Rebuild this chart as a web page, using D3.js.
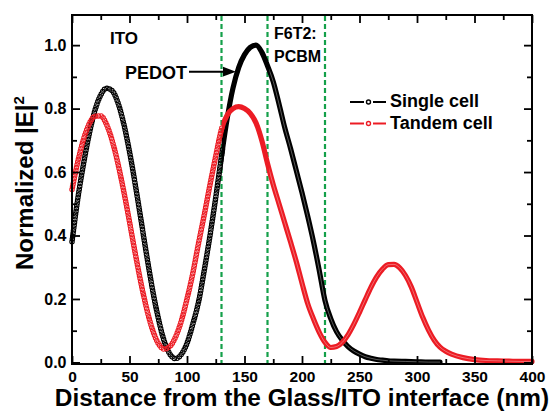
<!DOCTYPE html>
<html><head><meta charset="utf-8">
<script src="https://cdn.jsdelivr.net/npm/d3@7"></script>
<style>
body{margin:0;background:#fff}
svg{display:block}
text{font-family:"Liberation Sans",Arial,Helvetica,sans-serif;font-weight:bold;fill:#000}
</style>
</head><body>
<svg id="chart" width="554" height="412"></svg>
<script>
// ---- data ----
const singleX = [0,5,10,15,20,25,30,35,40,45,50,55,60,65,70,75,80,85,90,95,100,105,110,115,120,125,130,135,140,145,150,155,160,165,170,175,180,185,190,195,200,205,210,215,220,225,230,235,240,245,250,255,260,265,270,275,280,290,300,310,320];
const singleY = [0.38,0.515,0.625,0.72,0.795,0.843,0.864,0.856,0.818,0.752,0.664,0.561,0.449,0.336,0.23,0.14,0.069,0.027,0.012,0.025,0.06,0.12,0.19,0.29,0.40,0.52,0.65,0.77,0.865,0.93,0.97,0.993,1.0,0.978,0.935,0.885,0.815,0.74,0.675,0.605,0.535,0.46,0.38,0.29,0.195,0.138,0.097,0.07,0.05,0.036,0.026,0.018,0.013,0.009,0.007,0.005,0.004,0.003,0.002,0.001,0.001];
const tandemX = [0,5,10,15,20,25,30,35,40,45,50,55,60,65,70,75,80,85,90,95,100,105,110,115,120,125,130,135,140,145,150,155,160,165,170,175,180,185,190,195,200,205,210,215,220,225,230,235,240,245,250,255,260,265,270,275,280,285,290,295,300,305,310,315,320,325,330,340,350,360,370,380,390,400];
const tandemY = [0.545,0.632,0.703,0.752,0.776,0.777,0.75,0.698,0.626,0.539,0.443,0.344,0.25,0.168,0.103,0.06,0.042,0.05,0.08,0.13,0.20,0.28,0.375,0.465,0.56,0.65,0.735,0.78,0.80,0.806,0.80,0.785,0.755,0.70,0.627,0.56,0.50,0.44,0.38,0.318,0.25,0.185,0.137,0.095,0.063,0.047,0.05,0.063,0.087,0.12,0.158,0.198,0.237,0.27,0.294,0.308,0.309,0.298,0.274,0.238,0.19,0.142,0.102,0.07,0.048,0.035,0.026,0.015,0.009,0.006,0.005,0.004,0.003,0.003];
const seriesNames = ["Single cell","Tandem cell"];
const seriesColors = ["#000000","#ec1c24"];
const layerBounds = [130,170,220];
const xMajor = [0,50,100,150,200,250,300,350,400];
const xMinor = [25,75,125,175,225,275,325,375];
const yMajor = [0,0.2,0.4,0.6,0.8,1.0];
const yMinor = [0.1,0.3,0.5,0.7,0.9];
const xTitle = "Distance from the Glass/ITO interface (nm)";
const yTitle = "Normalized |E|";
const layerLabels = ["ITO","PEDOT","F6T2:","PCBM"];

// ---- layout ----
const L = 72, R = 532, T = 15, B = 364;
const svg = d3.select("#chart");
const x = d3.scaleLinear().domain([0,400]).range([L,R]);
const y = d3.scaleLinear().domain([-0.005,1.095]).range([B,T]);

// clip paths
const defs = svg.append("defs");
defs.append("clipPath").attr("id","active").append("rect")
  .attr("x", x(layerBounds[0])).attr("y",0).attr("width", 554 - x(layerBounds[0])).attr("height",412);
defs.append("clipPath").attr("id","hl").append("rect")
  .attr("x", x(layerBounds[1])+2).attr("y",0).attr("width", 554).attr("height",412);

// green dashed layer boundaries
svg.append("g").selectAll("line").data(layerBounds).join("line")
  .attr("x1", d=>x(d)).attr("x2", d=>x(d)).attr("y1", T+1).attr("y2", B-1)
  .attr("stroke","#14a04a").attr("stroke-width",2.2).attr("stroke-dasharray","5,3");

// series
function drawSeries(xs, ys, color){
  const data = xs.map((d,i)=>[d, ys[i]]);
  const line = d3.line().x(d=>x(d[0])).y(d=>y(d[1])).curve(d3.curveMonotoneX);
  const g = svg.append("g");
  const band = g.append("path").attr("d", line(data)).attr("fill","none")
    .attr("stroke", color).attr("stroke-width",5.2).attr("stroke-linecap","round")
    .attr("clip-path","url(#active)");
  g.append("path").attr("d", line(data)).attr("fill","none")
    .attr("stroke","#fff").attr("stroke-opacity",0.35).attr("stroke-width",1)
    .attr("clip-path","url(#hl)");
  const node = band.node();
  const len = node.getTotalLength();
  const pts = [];
  for (let s = 0; s <= len; s += 2.8) {
    const p = node.getPointAtLength(s);
    if (p.x <= x(layerBounds[0]) + 1) pts.push({x:p.x, y:p.y});
  }
  g.selectAll("circle").data(pts).join("circle")
    .attr("cx", d=>d.x).attr("cy", d=>d.y).attr("r",2.2)
    .attr("fill","none").attr("stroke",color).attr("stroke-width",1.1);
}
drawSeries(singleX, singleY, seriesColors[0]);
drawSeries(tandemX, tandemY, seriesColors[1]);

// axes (ticks inward)
function styleAxis(g){
  g.select(".domain").remove();
  g.selectAll(".tick line").attr("stroke","#000").attr("stroke-width",1.8);
}
svg.append("g").attr("transform",`translate(0,${B})`)
  .call(d3.axisBottom(x).tickValues(xMajor).tickSizeInner(-8).tickSizeOuter(0).tickPadding(7).tickFormat(d3.format("d")))
  .call(styleAxis)
  .call(g=>g.selectAll("text").attr("font-size",15.5).attr("fill","#000"));
svg.append("g").attr("transform",`translate(0,${B})`)
  .call(d3.axisBottom(x).tickValues(xMinor).tickSizeInner(-5).tickSizeOuter(0).tickFormat(""))
  .call(styleAxis);
svg.append("g").attr("transform",`translate(0,${T})`)
  .call(d3.axisTop(x).tickValues(xMajor).tickSizeInner(-8).tickSizeOuter(0).tickFormat(""))
  .call(styleAxis);
svg.append("g").attr("transform",`translate(0,${T})`)
  .call(d3.axisTop(x).tickValues(xMinor).tickSizeInner(-5).tickSizeOuter(0).tickFormat(""))
  .call(styleAxis);
svg.append("g").attr("transform",`translate(${L},0)`)
  .call(d3.axisLeft(y).tickValues(yMajor).tickSizeInner(-8).tickSizeOuter(0).tickPadding(5.5).tickFormat(d3.format(".1f")))
  .call(styleAxis)
  .call(g=>g.selectAll("text").attr("font-size",16).attr("fill","#000"));
svg.append("g").attr("transform",`translate(${L},0)`)
  .call(d3.axisLeft(y).tickValues(yMinor).tickSizeInner(-5).tickSizeOuter(0).tickFormat(""))
  .call(styleAxis);
svg.append("g").attr("transform",`translate(${R},0)`)
  .call(d3.axisRight(y).tickValues(yMajor).tickSizeInner(-8).tickSizeOuter(0).tickFormat(""))
  .call(styleAxis);
svg.append("g").attr("transform",`translate(${R},0)`)
  .call(d3.axisRight(y).tickValues(yMinor).tickSizeInner(-5).tickSizeOuter(0).tickFormat(""))
  .call(styleAxis);

// frame
svg.append("rect").attr("x",L).attr("y",T).attr("width",R-L).attr("height",B-T)
  .attr("fill","none").attr("stroke","#000").attr("stroke-width",2);

// axis titles
svg.append("text").attr("x",(L+R)/2).attr("y",406).attr("text-anchor","middle")
  .attr("font-size",24.4).text(xTitle);
const yt = svg.append("text").attr("transform","translate(33,270) rotate(-90)")
  .attr("font-size",24);
yt.append("tspan").text(yTitle);
yt.append("tspan").attr("font-size",15).attr("dy",-9).text("2");

// annotations
svg.append("text").attr("x",110).attr("y",43.5).attr("font-size",17).text(layerLabels[0]);
svg.append("text").attr("x",125).attr("y",78.5).attr("font-size",18).text(layerLabels[1]);
svg.append("line").attr("x1",189).attr("x2",226).attr("y1",71.7).attr("y2",71.7)
  .attr("stroke","#000").attr("stroke-width",2);
svg.append("path").attr("d","M236,71.7 L223,66.8 L223,76.6 Z").attr("fill","#000");
svg.append("text").attr("x",274).attr("y",38.5).attr("font-size",16).text(layerLabels[2]);
svg.append("text").attr("x",274).attr("y",62.3).attr("font-size",16).text(layerLabels[3]);

// legend
const legY = [102, 123.5];
const lg = svg.append("g");
seriesNames.forEach((name,i)=>{
  const c = seriesColors[i];
  lg.append("line").attr("x1",350).attr("x2",364).attr("y1",legY[i]).attr("y2",legY[i]).attr("stroke",c).attr("stroke-width",2);
  lg.append("line").attr("x1",373).attr("x2",386).attr("y1",legY[i]).attr("y2",legY[i]).attr("stroke",c).attr("stroke-width",2);
  lg.append("circle").attr("cx",368.5).attr("cy",legY[i]).attr("r",2).attr("fill","#fff").attr("stroke",c).attr("stroke-width",1.4);
  lg.append("text").attr("x",390).attr("y",legY[i]+5).attr("font-size",18).text(name);
});
</script>
</body></html>
